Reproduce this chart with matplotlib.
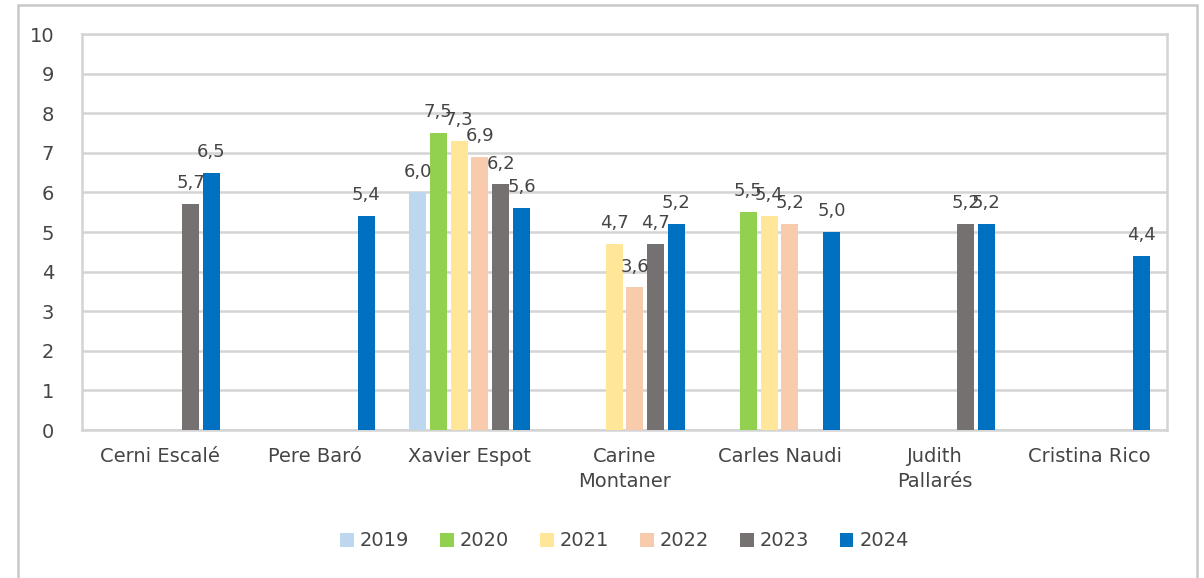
import matplotlib
matplotlib.use("Agg")
import matplotlib.pyplot as plt
import numpy as np
from matplotlib.patches import Rectangle

categories = ["Cerni Escalé", "Pere Baró", "Xavier Espot", "Carine\nMontaner",
              "Carles Naudi", "Judith\nPallarés", "Cristina Rico"]
years = ["2019", "2020", "2021", "2022", "2023", "2024"]
v2019 = [None, None, 6.0, None, None, None, None]
v2020 = [None, None, 7.5, None, 5.5, None, None]
v2021 = [None, None, 7.3, 4.7, 5.4, None, None]
v2022 = [None, None, 6.9, 3.6, 5.2, None, None]
v2023 = [5.7, None, 6.2, 4.7, None, 5.2, None]
v2024 = [6.5, 5.4, 5.6, 5.2, 5.0, 5.2, 4.4]
series = [v2019, v2020, v2021, v2022, v2023, v2024]
colors = ["#BDD7EE", "#92D050", "#FFE699", "#F8CBAD", "#767171", "#0070C0"]

plt.rcParams['font.family'] = ['DejaVu Sans']
fig = plt.figure(figsize=(12.04, 5.78), dpi=100)
ax = fig.add_axes([82/1204, (578-430)/578, (1167-82)/1204, (430-34)/578])

x = np.arange(len(categories))
step = 0.134
width = 0.11
text_color = "#454545"
for i, (vals, col, yr) in enumerate(zip(series, colors, years)):
    xs = [xi + (i - 2.5) * step for xi, v in zip(x, vals) if v is not None]
    hs = [v for v in vals if v is not None]
    bars = ax.bar(xs, hs, width=width, color=col, label=yr, zorder=3)
    for b, h in zip(bars, hs):
        ax.text(b.get_x() + b.get_width() / 2, h + 0.3, f"{h:.1f}".replace(".", ","),
                ha="center", va="bottom", fontsize=13, color=text_color, zorder=4)

ax.set_xlim(-0.5, len(categories) - 0.5)
ax.set_ylim(0, 10)
ax.set_yticks(range(0, 11))
ax.yaxis.grid(True, color="#D4D4D4", linewidth=1.8, zorder=0)
ax.set_axisbelow(True)
ax.set_xticks(x)
ax.set_xticklabels(categories, fontsize=14, color=text_color, linespacing=1.45)
ax.tick_params(axis="y", labelsize=14, labelcolor=text_color, length=0, pad=20)
ax.tick_params(axis="x", length=0, pad=12)
for s in ax.spines.values():
    s.set_color("#D4D4D4")
    s.set_linewidth(1.8)

ax.legend(loc="center", bbox_to_anchor=(0.5, (541 - 430) / -396), ncol=6, frameon=False,
          fontsize=14, handlelength=0.7, handleheight=0.7, handletextpad=0.3,
          columnspacing=1.6, labelcolor=text_color)

fig.patches.append(Rectangle((18/1204, -0.05), (1197-18)/1204, 1.05 - 5/578,
                             transform=fig.transFigure, fill=False,
                             edgecolor="#C8C8C8", linewidth=1.8))
fig.savefig("out.png", dpi=100)
